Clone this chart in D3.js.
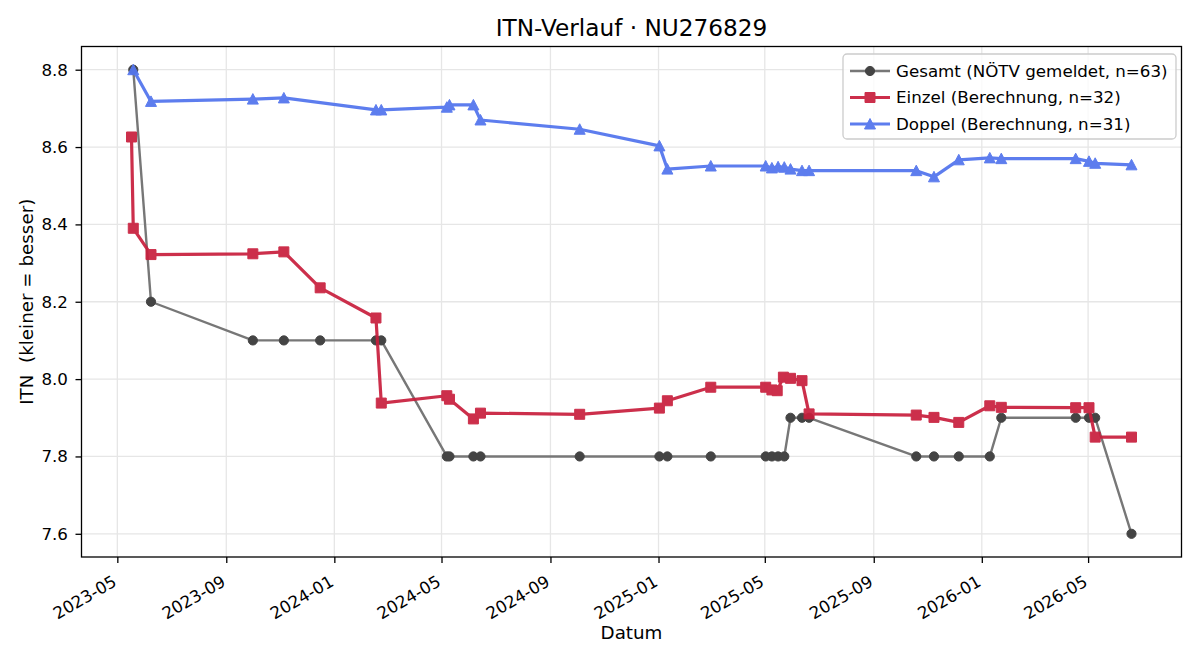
<!DOCTYPE html>
<html>
<head>
<meta charset="utf-8">
<script src="https://cdn.jsdelivr.net/npm/d3@7"></script>
<style>
body { margin:0; background:#fff; }
text { font-family: "DejaVu Sans", sans-serif; fill:#000; }
</style>
</head>
<body>
<div id="drawing"></div>
<script>
"use strict"

/**** DATA ****/

let gesamtDates = ["2023-05-19","2023-06-08","2023-10-01","2023-11-05","2023-12-16","2024-02-17","2024-02-23",
"2024-05-07","2024-05-10","2024-06-06","2024-06-14","2024-10-04","2025-01-02","2025-01-11","2025-03-01",
"2025-05-02","2025-05-09","2025-05-16","2025-05-23","2025-05-30","2025-06-12","2025-06-20",
"2025-10-19","2025-11-08","2025-12-06","2026-01-10","2026-01-23","2026-04-17","2026-05-02","2026-05-09","2026-06-19"]
let gesamtValues = [8.8,8.2,8.1,8.1,8.1,8.1,8.1,
7.8,7.8,7.8,7.8,7.8,7.8,7.8,7.8,
7.8,7.8,7.8,7.8,7.9,7.9,7.9,
7.8,7.8,7.8,7.8,7.9,7.9,7.9,7.9,7.6]

let einzelDates = ["2023-05-17","2023-05-19","2023-06-08","2023-10-01","2023-11-05","2023-12-16","2024-02-17","2024-02-23",
"2024-05-07","2024-05-10","2024-06-06","2024-06-14","2024-10-04","2025-01-02","2025-01-11","2025-03-01",
"2025-05-02","2025-05-09","2025-05-15","2025-05-22","2025-05-30","2025-06-12","2025-06-20",
"2025-10-19","2025-11-08","2025-12-06","2026-01-10","2026-01-23","2026-04-17","2026-05-02","2026-05-09","2026-06-19"]
let einzelValues = [8.626,8.390,8.322,8.324,8.329,8.236,8.158,7.938,
7.957,7.948,7.897,7.912,7.909,7.925,7.944,7.979,
7.979,7.972,7.970,8.005,8.002,7.996,7.910,
7.907,7.901,7.888,7.931,7.927,7.926,7.926,7.850,7.850]

let doppelDates = ["2023-05-19","2023-06-08","2023-10-01","2023-11-05","2024-02-17","2024-02-23",
"2024-05-07","2024-05-10","2024-06-06","2024-06-14","2024-10-04","2025-01-02","2025-01-11","2025-03-01",
"2025-05-02","2025-05-09","2025-05-16","2025-05-23","2025-05-30","2025-06-12","2025-06-20",
"2025-10-19","2025-11-08","2025-12-06","2026-01-10","2026-01-23","2026-04-17","2026-05-02","2026-05-09","2026-06-19"]
let doppelValues = [8.800,8.718,8.724,8.727,8.696,8.696,
8.703,8.709,8.709,8.670,8.646,8.603,8.543,8.551,
8.551,8.546,8.549,8.548,8.543,8.539,8.539,
8.539,8.523,8.567,8.572,8.570,8.570,8.563,8.558,8.554]

let seriesNames = ["Gesamt (NÖTV gemeldet, n=63)","Einzel (Berechnung, n=32)","Doppel (Berechnung, n=31)"]

let xTickLabels = ["2023-05","2023-09","2024-01","2024-05","2024-09","2025-01","2025-05","2025-09","2026-01","2026-05"]
let yTickValues = [7.6,7.8,8.0,8.2,8.4,8.6,8.8]


/**** CONFIGURATION ****/

let svgWidth = 1200
let svgHeight = 660

let leftMargin = 81.5
let rightMargin = 18.5
let topMargin = 46.5
let bottomMargin = 103

let fontSize = 16.7
let labelSize = 18.3
let titleSize = 23.2

let styles = [
  {line:"#777777", lineWidth:2.4, fill:"#444444", opacity:1, shape:"circle"},
  {line:"#c81e3c", lineWidth:3.2, fill:"#c81e3c", opacity:0.92, shape:"square"},
  {line:"#5577ee", lineWidth:3.2, fill:"#5577ee", opacity:0.95, shape:"triangle"}
]


/**** CANVAS SETUP ****/

let svg = d3.select("#drawing")
.append("svg")
.attr("width", svgWidth)
.attr("height", svgHeight)

let parseDate = d3.timeParse("%Y-%m-%d")
let parseMonth = d3.timeParse("%Y-%m")

function makeSeries(dates, values){
  return dates.map((d,i) => ({date:parseDate(d), value:values[i]}))
}

let series = [
  makeSeries(gesamtDates, gesamtValues),
  makeSeries(einzelDates, einzelValues),
  makeSeries(doppelDates, doppelValues)
]

let allPoints = series.flat()


/**** SCALES (matplotlib-like 5% padding) ****/

let xExt = d3.extent(allPoints, d => d.date.getTime())
let xPad = (xExt[1]-xExt[0])*0.05
let xScale = d3.scaleTime()
.domain([new Date(xExt[0]-xPad), new Date(xExt[1]+xPad)])
.range([leftMargin, svgWidth-rightMargin])

let yExt = d3.extent(allPoints, d => d.value)
let yPad = (yExt[1]-yExt[0])*0.05
let yScale = d3.scaleLinear()
.domain([yExt[0]-yPad, yExt[1]+yPad])
.range([svgHeight-bottomMargin, topMargin])

let xTickDates = xTickLabels.map(parseMonth)


/**** GRID ****/

svg.append("g")
.selectAll("line")
.data(xTickDates)
.join("line")
.attr("x1", d => xScale(d))
.attr("x2", d => xScale(d))
.attr("y1", topMargin)
.attr("y2", svgHeight-bottomMargin)
.attr("stroke", "#e6e6e6")
.attr("stroke-width", 1.3)

svg.append("g")
.selectAll("line")
.data(yTickValues)
.join("line")
.attr("x1", leftMargin)
.attr("x2", svgWidth-rightMargin)
.attr("y1", d => yScale(d))
.attr("y2", d => yScale(d))
.attr("stroke", "#e6e6e6")
.attr("stroke-width", 1.3)


/**** LINES AND MARKERS ****/

let line = d3.line()
.x(d => xScale(d.date))
.y(d => yScale(d.value))

function markerPath(shape){
  if(shape == "square") return "M-5,-5H5V5H-5Z"
  if(shape == "triangle") return "M0,-5.5L5.5,5L-5.5,5Z"
  return d3.symbol(d3.symbolCircle, Math.PI*4.6*4.6)()
}

series.forEach(function(s, i){
  let st = styles[i]
  let g = svg.append("g").attr("opacity", st.opacity)

  g.append("path")
  .datum(s)
  .attr("d", line)
  .attr("fill", "none")
  .attr("stroke", st.line)
  .attr("stroke-width", st.lineWidth)
  .attr("stroke-linejoin", "round")

  g.selectAll(".marker")
  .data(s)
  .join("path")
  .attr("class", "marker")
  .attr("transform", d => "translate(" + xScale(d.date) + "," + yScale(d.value) + ")")
  .attr("d", markerPath(st.shape))
  .attr("fill", st.fill)
  .attr("stroke", st.fill)
  .attr("stroke-width", 1)
})


/**** AXES ****/

let xAxis = svg.append("g")
.attr("transform", "translate(0," + (svgHeight-bottomMargin) + ")")
.call(d3.axisBottom(xScale).tickValues(xTickDates).tickSize(6).tickFormat(d3.timeFormat("%Y-%m")))

xAxis.selectAll("text")
.attr("font-size", fontSize)
.attr("font-family", "DejaVu Sans")
.style("text-anchor", "end")
.attr("y", 0)
.attr("dy", 0)
.attr("transform", "translate(0,28) rotate(-30)")

let yAxis = svg.append("g")
.attr("transform", "translate(" + leftMargin + ",0)")
.call(d3.axisLeft(yScale).tickValues(yTickValues).tickSize(6).tickFormat(d3.format(".1f")))

yAxis.selectAll("text")
.attr("font-size", fontSize)
.attr("font-family", "DejaVu Sans")
.attr("x", -13.5)

svg.selectAll(".domain").remove()
svg.selectAll(".tick line").attr("stroke-width", 1.3)

// frame
svg.append("rect")
.attr("x", leftMargin)
.attr("y", topMargin)
.attr("width", svgWidth-leftMargin-rightMargin)
.attr("height", svgHeight-topMargin-bottomMargin)
.attr("fill", "none")
.attr("stroke", "black")
.attr("stroke-width", 1.3)


/**** TITLE AND LABELS ****/

svg.append("text")
.attr("x", (leftMargin+svgWidth-rightMargin)/2)
.attr("y", 36)
.attr("font-size", titleSize)
.style("text-anchor", "middle")
.text("ITN-Verlauf · NU276829")

svg.append("text")
.attr("x", (leftMargin+svgWidth-rightMargin)/2)
.attr("y", 639)
.attr("font-size", labelSize)
.style("text-anchor", "middle")
.text("Datum")

svg.append("text")
.attr("transform", "rotate(-90)")
.attr("x", -(topMargin+svgHeight-bottomMargin)/2)
.attr("y", 33)
.attr("font-size", labelSize)
.attr("xml:space", "preserve")
.style("text-anchor", "middle")
.style("white-space", "pre")
.text("ITN  (kleiner = besser)")


/**** LEGEND ****/

let legend = svg.append("g")
.attr("transform", "translate(843,54)")

legend.append("rect")
.attr("width", 333)
.attr("height", 85)
.attr("rx", 4)
.attr("fill", "white")
.attr("fill-opacity", 0.8)
.attr("stroke", "#cccccc")
.attr("stroke-width", 1.3)

seriesNames.forEach(function(name, i){
  let st = styles[i]
  let y = 17 + i*26.5
  let g = legend.append("g").attr("opacity", st.opacity)
  g.append("line")
  .attr("x1", 7).attr("x2", 47)
  .attr("y1", y).attr("y2", y)
  .attr("stroke", st.line)
  .attr("stroke-width", st.lineWidth)
  g.append("path")
  .attr("transform", "translate(27," + y + ")")
  .attr("d", markerPath(st.shape))
  .attr("fill", st.fill)
  .attr("stroke", st.fill)

  legend.append("text")
  .attr("x", 53)
  .attr("y", y)
  .attr("dy", "0.35em")
  .attr("font-size", fontSize)
  .text(name)
})
</script>
</body>
</html>
